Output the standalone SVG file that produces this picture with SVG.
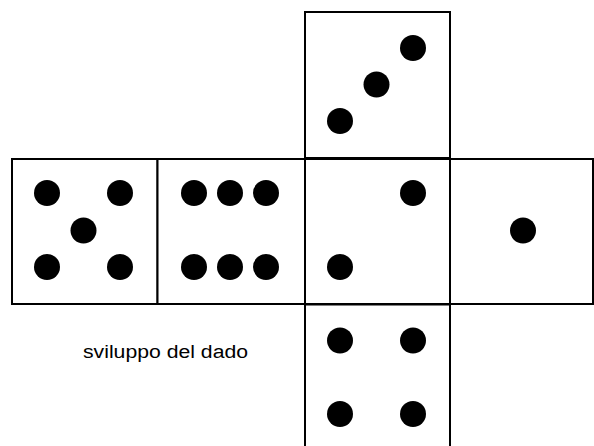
<svg xmlns="http://www.w3.org/2000/svg" width="594" height="446" viewBox="0 0 594 446">
<style>
.face{fill:#fff;stroke:#000;stroke-width:2}
.pip{fill:#000}
.lbl{font-family:"Liberation Sans",Arial,sans-serif;font-size:18px;fill:#000}
</style>
<rect width="594" height="446" fill="#fff"/>
<g id="face3">
<rect class="face" x="305" y="12" width="145" height="146"/>
<circle class="pip" cx="340" cy="121" r="13"/>
<circle class="pip" cx="376.5" cy="84.5" r="13"/>
<circle class="pip" cx="413" cy="48" r="13"/>
</g>
<g id="face5">
<rect class="face" x="12" y="159" width="145.5" height="145"/>
<circle class="pip" cx="47" cy="193" r="13"/>
<circle class="pip" cx="120" cy="193" r="13"/>
<circle class="pip" cx="83.5" cy="230.5" r="13"/>
<circle class="pip" cx="47" cy="267" r="13"/>
<circle class="pip" cx="120" cy="267" r="13"/>
</g>
<g id="face6">
<rect class="face" x="157.5" y="159" width="147.5" height="145"/>
<circle class="pip" cx="194" cy="193" r="13"/>
<circle class="pip" cx="230" cy="193" r="13"/>
<circle class="pip" cx="266" cy="193" r="13"/>
<circle class="pip" cx="194" cy="267" r="13"/>
<circle class="pip" cx="230" cy="267" r="13"/>
<circle class="pip" cx="266" cy="267" r="13"/>
</g>
<g id="face2">
<rect class="face" x="305" y="159" width="145" height="145"/>
<circle class="pip" cx="413" cy="193" r="13"/>
<circle class="pip" cx="340" cy="267" r="13"/>
</g>
<g id="face1">
<rect class="face" x="450" y="159" width="143" height="145"/>
<circle class="pip" cx="523" cy="230.5" r="13"/>
</g>
<g id="face4">
<path class="face" d="M305,447 V304.5 H450 V447"/>
<circle class="pip" cx="340" cy="340.5" r="13"/>
<circle class="pip" cx="413" cy="340.5" r="13"/>
<circle class="pip" cx="340" cy="414" r="13"/>
<circle class="pip" cx="413" cy="414" r="13"/>
</g>
<g id="caption">
<text class="lbl" x="83" y="358" textLength="165" lengthAdjust="spacingAndGlyphs">sviluppo del dado</text>
</g>
</svg>
